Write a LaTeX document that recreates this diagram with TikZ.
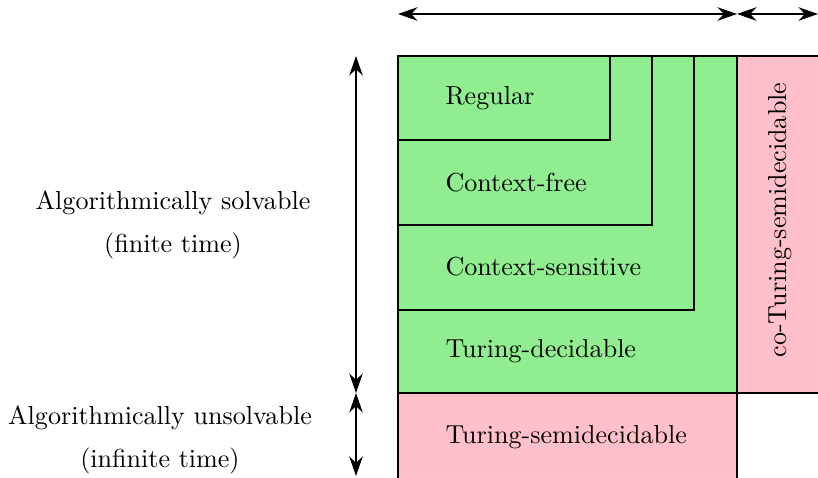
\documentclass[tikz,border=0pt]{standalone}
\usepackage{tikz}
\usetikzlibrary{arrows.meta}
\definecolor{decidcol}{RGB}{144,238,144}
\definecolor{semicol}{RGB}{255,192,203}
\tikzset{
  span/.style={{Stealth[length=7.5pt,width=5.2pt]}-{Stealth[length=7.5pt,width=5.2pt]},line width=0.5pt},
  region/.style={draw,line width=0.4pt},
  lang/.style={anchor=base west,inner sep=0pt},
  side/.style={align=center,inner sep=0pt}
}
\begin{document}
\begin{tikzpicture}[x=0.3837pt,y=-0.3837pt]
  \clip (0,0) rectangle (818,478);
  \draw[region,fill=decidcol] (398,56) rectangle (737,393);
  \draw[region,fill=semicol] (737,56) rectangle (830,393);
  \draw[region,fill=semicol] (398,393) rectangle (737,490);
  \draw[region] (398,56) rectangle (694,310);
  \draw[region] (398,56) rectangle (652,225);
  \draw[region] (398,56) rectangle (610,140);
  \node[lang] (reg) at (445,105) {Regular};
  \node[lang] (cf) at (445,192) {Context-free};
  \node[lang] (cs) at (445,275) {Context-sensitive};
  \node[lang] (dec) at (445,357) {Turing-decidable};
  \node[lang] (semi) at (445,443) {Turing-semidecidable};
  \node[anchor=base,rotate=90,inner sep=0pt] (cosemi) at (786,220) {co-Turing-semidecidable};
  \node[side] (solv) at (173,225) {Algorithmically solvable\\[4.5pt](finite time)};
  \node[side] (unsolv) at (160,440) {Algorithmically unsolvable\\[4.5pt](infinite time)};
  \coordinate (h0) at (398,14);
  \coordinate (h1) at (737,14);
  \coordinate (h2) at (818,14);
  \coordinate (v0) at (356,56);
  \coordinate (v1) at (356,393);
  \coordinate (v2) at (356,476);
  \draw[span] (h0)--(h1);
  \draw[span] (h1)--(h2);
  \draw[span] (v0)--(v1);
  \draw[span] (v1)--(v2);
\end{tikzpicture}
\end{document}
